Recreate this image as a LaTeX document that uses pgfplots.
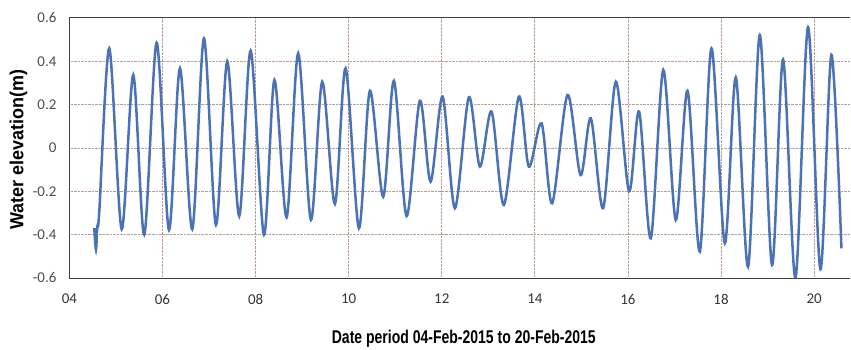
\documentclass[border=0pt]{standalone}
\usepackage{fontspec}
\setmainfont{Carlito}
\newfontfamily\arialfont{Liberation Sans}
\usepackage{graphicx}
\usepackage{pgfplots}
\pgfplotsset{compat=1.18}
\definecolor{tide}{RGB}{74,114,180}
\definecolor{gridc}{RGB}{185,155,145}
\begin{document}
\begin{tikzpicture}[x=1bp,y=1bp]
\useasboundingbox (0,0) rectangle (851,349);
\begin{axis}[
  at={(69.4bp,71bp)}, anchor=south west, scale only axis,
  width=781bp, height=260bp,
  xmin=4, xmax=20.78, ymin=-0.6, ymax=0.6,
  xtick={6,8,10,12,14,16,18,20},
  xticklabels={06,08,10,12,14,16,18,20},
  extra x ticks={4}, extra x tick labels={04},
  ytick={-0.4,-0.2,0,0.2,0.4},
  yticklabels={-0.4,-0.2,0,0.2,0.4},
  extra y ticks={-0.6,0.6}, extra y tick labels={-0.6,0.6},
  extra tick style={grid=none},
  major tick length=0pt,
  grid=major,
  major grid style={gridc, densely dotted, line width=0.8bp},
  axis line style={draw=none},
  xticklabel style={font=\fontsize{15}{17}\selectfont, text=black!80, yshift=-12.5bp},
  yticklabel style={font=\fontsize{15}{17}\selectfont, text=black!70, xshift=-9.5bp},
  xlabel={\scalebox{0.76}[1]{\arialfont\bfseries\fontsize{18.5}{20}\selectfont Date period 04-Feb-2015 to 20-Feb-2015}},
  xlabel style={at={(axis description cs:0.505,-0.2327)}, anchor=center},
  ylabel={\scalebox{0.95}[1]{\arialfont\bfseries\fontsize{19}{20}\selectfont Water elevation(m)}},
  ylabel style={at={(axis description cs:-0.0653,0.494)}, anchor=center},
  after end axis/.code={
    \draw[black!75, line width=1bp] (axis description cs:0,0) -- (axis description cs:1,0);
    \draw[black!75, line width=1bp] (axis description cs:0,0) -- (axis description cs:0,1) -- (axis description cs:1,1);
  },
]
\addplot[tide, line width=2.5bp, smooth, tension=0.5] coordinates {
(4.535,-0.37) (4.571,-0.47) (4.600,-0.36) (4.640,-0.30)
(4.857,0.46) (5.123,-0.375) (5.372,0.337) (5.609,-0.40)
(5.875,0.486) (6.139,-0.378) (6.375,0.368) (6.640,-0.375)
(6.891,0.506) (7.149,-0.355) (7.391,0.40) (7.649,-0.314)
(7.894,0.449) (8.180,-0.40) (8.405,0.314) (8.667,-0.32)
(8.916,0.437) (9.189,-0.332) (9.432,0.306) (9.704,-0.258)
(9.934,0.368) (10.220,-0.37) (10.456,0.264) (10.742,-0.225)
(10.972,0.31) (11.244,-0.314) (11.530,0.218) (11.760,-0.155)
(12.018,0.237) (12.282,-0.278) (12.582,0.234) (12.819,-0.086)
(13.070,0.168) (13.334,-0.263) (13.656,0.237) (13.871,-0.086)
(14.144,0.114) (14.372,-0.255) (14.702,0.245) (14.982,-0.125)
(15.203,0.137) (15.467,-0.278) (15.740,0.306) (16.025,-0.20)
(16.240,0.168) (16.491,-0.417) (16.760,0.36) (17.028,-0.332)
(17.280,0.264) (17.544,-0.478) (17.795,0.46) (18.081,-0.44)
(18.317,0.326) (18.581,-0.548) (18.833,0.521) (19.097,-0.54)
(19.333,0.409) (19.599,-0.60) (19.870,0.557) (20.136,-0.56)
(20.372,0.43) (20.587,-0.463)
};
\end{axis}
\end{tikzpicture}
\end{document}
